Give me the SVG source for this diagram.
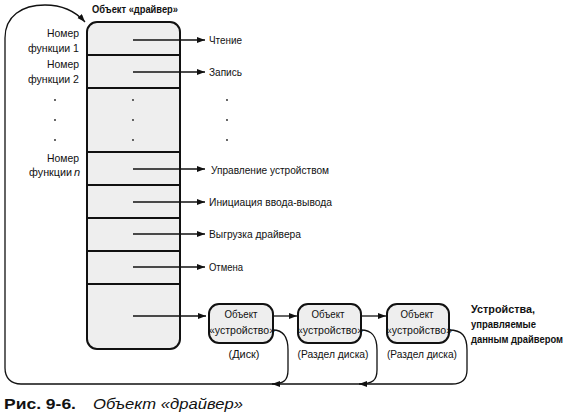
<svg xmlns="http://www.w3.org/2000/svg" width="570" height="417" viewBox="0 0 570 417">
<style>
.box{fill:#eeeeee;stroke:#111;stroke-width:2}
.div{stroke:#111;stroke-width:2}
.con{fill:none;stroke:#111;stroke-width:1.3}
.t{font-family:"Liberation Sans",Arial,sans-serif;font-size:11px;fill:#111}
.b{font-family:"Liberation Sans",Arial,sans-serif;font-size:10px;font-weight:bold;fill:#111}
.dot{fill:#222}
</style>
<defs>
<marker id="ah" markerUnits="userSpaceOnUse" markerWidth="9" markerHeight="7" refX="8" refY="3" orient="auto">
<path d="M0,0 L8,3 L0,6 z" fill="#111"/>
</marker>
</defs>
<rect width="570" height="417" fill="#fff"/>

<g id="driver">
<rect class="box" x="87" y="22" width="93" height="327" rx="10"/>
<line class="div" x1="87" y1="55" x2="180" y2="55"/>
<line class="div" x1="87" y1="88" x2="180" y2="88"/>
<line class="div" x1="87" y1="152" x2="180" y2="152"/>
<line class="div" x1="87" y1="185" x2="180" y2="185"/>
<line class="div" x1="87" y1="218" x2="180" y2="218"/>
<line class="div" x1="87" y1="251" x2="180" y2="251"/>
<line class="div" x1="87" y1="284" x2="180" y2="284"/>
<text class="b" x="92" y="13" textLength="86" lengthAdjust="spacingAndGlyphs">Объект «драйвер»</text>
</g>

<g id="func-labels">
<text class="t" x="79" y="37" text-anchor="end" textLength="32" lengthAdjust="spacingAndGlyphs">Номер</text>
<text class="t" x="79" y="52" text-anchor="end" textLength="51" lengthAdjust="spacingAndGlyphs">функции 1</text>
<text class="t" x="79" y="68" text-anchor="end" textLength="32" lengthAdjust="spacingAndGlyphs">Номер</text>
<text class="t" x="79" y="83" text-anchor="end" textLength="51" lengthAdjust="spacingAndGlyphs">функции 2</text>
<text class="t" x="79" y="162" text-anchor="end" textLength="32" lengthAdjust="spacingAndGlyphs">Номер</text>
<text class="t" x="72" y="176" text-anchor="end" textLength="43" lengthAdjust="spacingAndGlyphs">функции</text>
<text class="t" x="74" y="176" font-style="italic">n</text>
</g>

<g id="dots">
<circle class="dot" cx="55" cy="100" r="0.9"/><circle class="dot" cx="55" cy="120" r="0.9"/><circle class="dot" cx="55" cy="140" r="0.9"/>
<circle class="dot" cx="133" cy="100" r="0.9"/><circle class="dot" cx="133" cy="120" r="0.9"/><circle class="dot" cx="133" cy="140" r="0.9"/>
<circle class="dot" cx="227" cy="100" r="0.9"/><circle class="dot" cx="227" cy="120" r="0.9"/><circle class="dot" cx="227" cy="140" r="0.9"/>
</g>

<g id="routines">
<text class="t" x="209" y="44" textLength="33" lengthAdjust="spacingAndGlyphs">Чтение</text>
<text class="t" x="209" y="76" textLength="33" lengthAdjust="spacingAndGlyphs">Запись</text>
<text class="t" x="211" y="174" textLength="118" lengthAdjust="spacingAndGlyphs">Управление устройством</text>
<text class="t" x="209" y="206" textLength="123" lengthAdjust="spacingAndGlyphs">Инициация ввода-вывода</text>
<text class="t" x="209" y="238" textLength="92" lengthAdjust="spacingAndGlyphs">Выгрузка драйвера</text>
<text class="t" x="209" y="271" textLength="34" lengthAdjust="spacingAndGlyphs">Отмена</text>
</g>

<g id="device1">
<rect class="box" x="209" y="304" width="64" height="39" rx="10"/>
<text class="t" x="241" y="318" text-anchor="middle" textLength="33" lengthAdjust="spacingAndGlyphs">Объект</text>
<text class="t" x="242" y="334" text-anchor="middle" textLength="66" lengthAdjust="spacingAndGlyphs">«устройство»</text>
<text class="t" x="244" y="358" text-anchor="middle" textLength="31" lengthAdjust="spacingAndGlyphs">(Диск)</text>
</g>
<g id="device2">
<rect class="box" x="298" y="304" width="63" height="39" rx="10"/>
<text class="t" x="328" y="318" text-anchor="middle" textLength="33" lengthAdjust="spacingAndGlyphs">Объект</text>
<text class="t" x="330" y="334" text-anchor="middle" textLength="66" lengthAdjust="spacingAndGlyphs">«устройство»</text>
<text class="t" x="333" y="358" text-anchor="middle" textLength="71" lengthAdjust="spacingAndGlyphs">(Раздел диска)</text>
</g>
<g id="device3">
<rect class="box" x="387" y="304" width="62" height="39" rx="10"/>
<text class="t" x="417" y="318" text-anchor="middle" textLength="33" lengthAdjust="spacingAndGlyphs">Объект</text>
<text class="t" x="419" y="334" text-anchor="middle" textLength="66" lengthAdjust="spacingAndGlyphs">«устройство»</text>
<text class="t" x="422" y="358" text-anchor="middle" textLength="70" lengthAdjust="spacingAndGlyphs">(Раздел диска)</text>
</g>

<g id="devices-note">
<text class="b" x="471" y="313" textLength="64" lengthAdjust="spacingAndGlyphs">Устройства,</text>
<text class="b" x="471" y="328" textLength="65" lengthAdjust="spacingAndGlyphs">управляемые</text>
<text class="b" x="471" y="343" textLength="92" lengthAdjust="spacingAndGlyphs">данным драйвером</text>
</g>

<g id="connectors">
<line class="con" x1="133" y1="40" x2="205" y2="40" marker-end="url(#ah)"/>
<line class="con" x1="133" y1="72" x2="205" y2="72" marker-end="url(#ah)"/>
<line class="con" x1="133" y1="169" x2="205" y2="169" marker-end="url(#ah)"/>
<line class="con" x1="133" y1="202" x2="205" y2="202" marker-end="url(#ah)"/>
<line class="con" x1="133" y1="234" x2="205" y2="234" marker-end="url(#ah)"/>
<line class="con" x1="133" y1="267" x2="205" y2="267" marker-end="url(#ah)"/>
<line class="con" x1="133" y1="316" x2="206" y2="316" marker-end="url(#ah)"/>
<line class="con" x1="273" y1="316" x2="297" y2="316" marker-end="url(#ah)"/>
<line class="con" x1="361" y1="316" x2="386" y2="316" marker-end="url(#ah)"/>
<path class="con" d="M449,330 C462,330 467,336 467,350 L467,370 C467,380 462,384 452,384 L21,384 C11,384 5,378 5,368 L5,38 C5,16 22,5 45,5 C62,5 76,12 85,22" marker-end="url(#ah)"/>
<path class="con" d="M273,330 C283,330 288,336 288,350 L288,370 C288,380 284,384 272,384" marker-end="url(#ah)"/>
<path class="con" d="M361,330 C372,330 377,336 377,350 L377,370 C377,380 373,384 359,384" marker-end="url(#ah)"/>
</g>

<g id="caption">
<text x="4" y="409" font-family="'Liberation Sans',Arial,sans-serif" font-size="15" font-weight="bold" fill="#111" textLength="72" lengthAdjust="spacingAndGlyphs">Рис. 9-6.</text>
<text x="93" y="409" font-family="'Liberation Sans',Arial,sans-serif" font-size="15" font-style="italic" fill="#111" textLength="150" lengthAdjust="spacingAndGlyphs">Объект «драйвер»</text>
</g>
</svg>
